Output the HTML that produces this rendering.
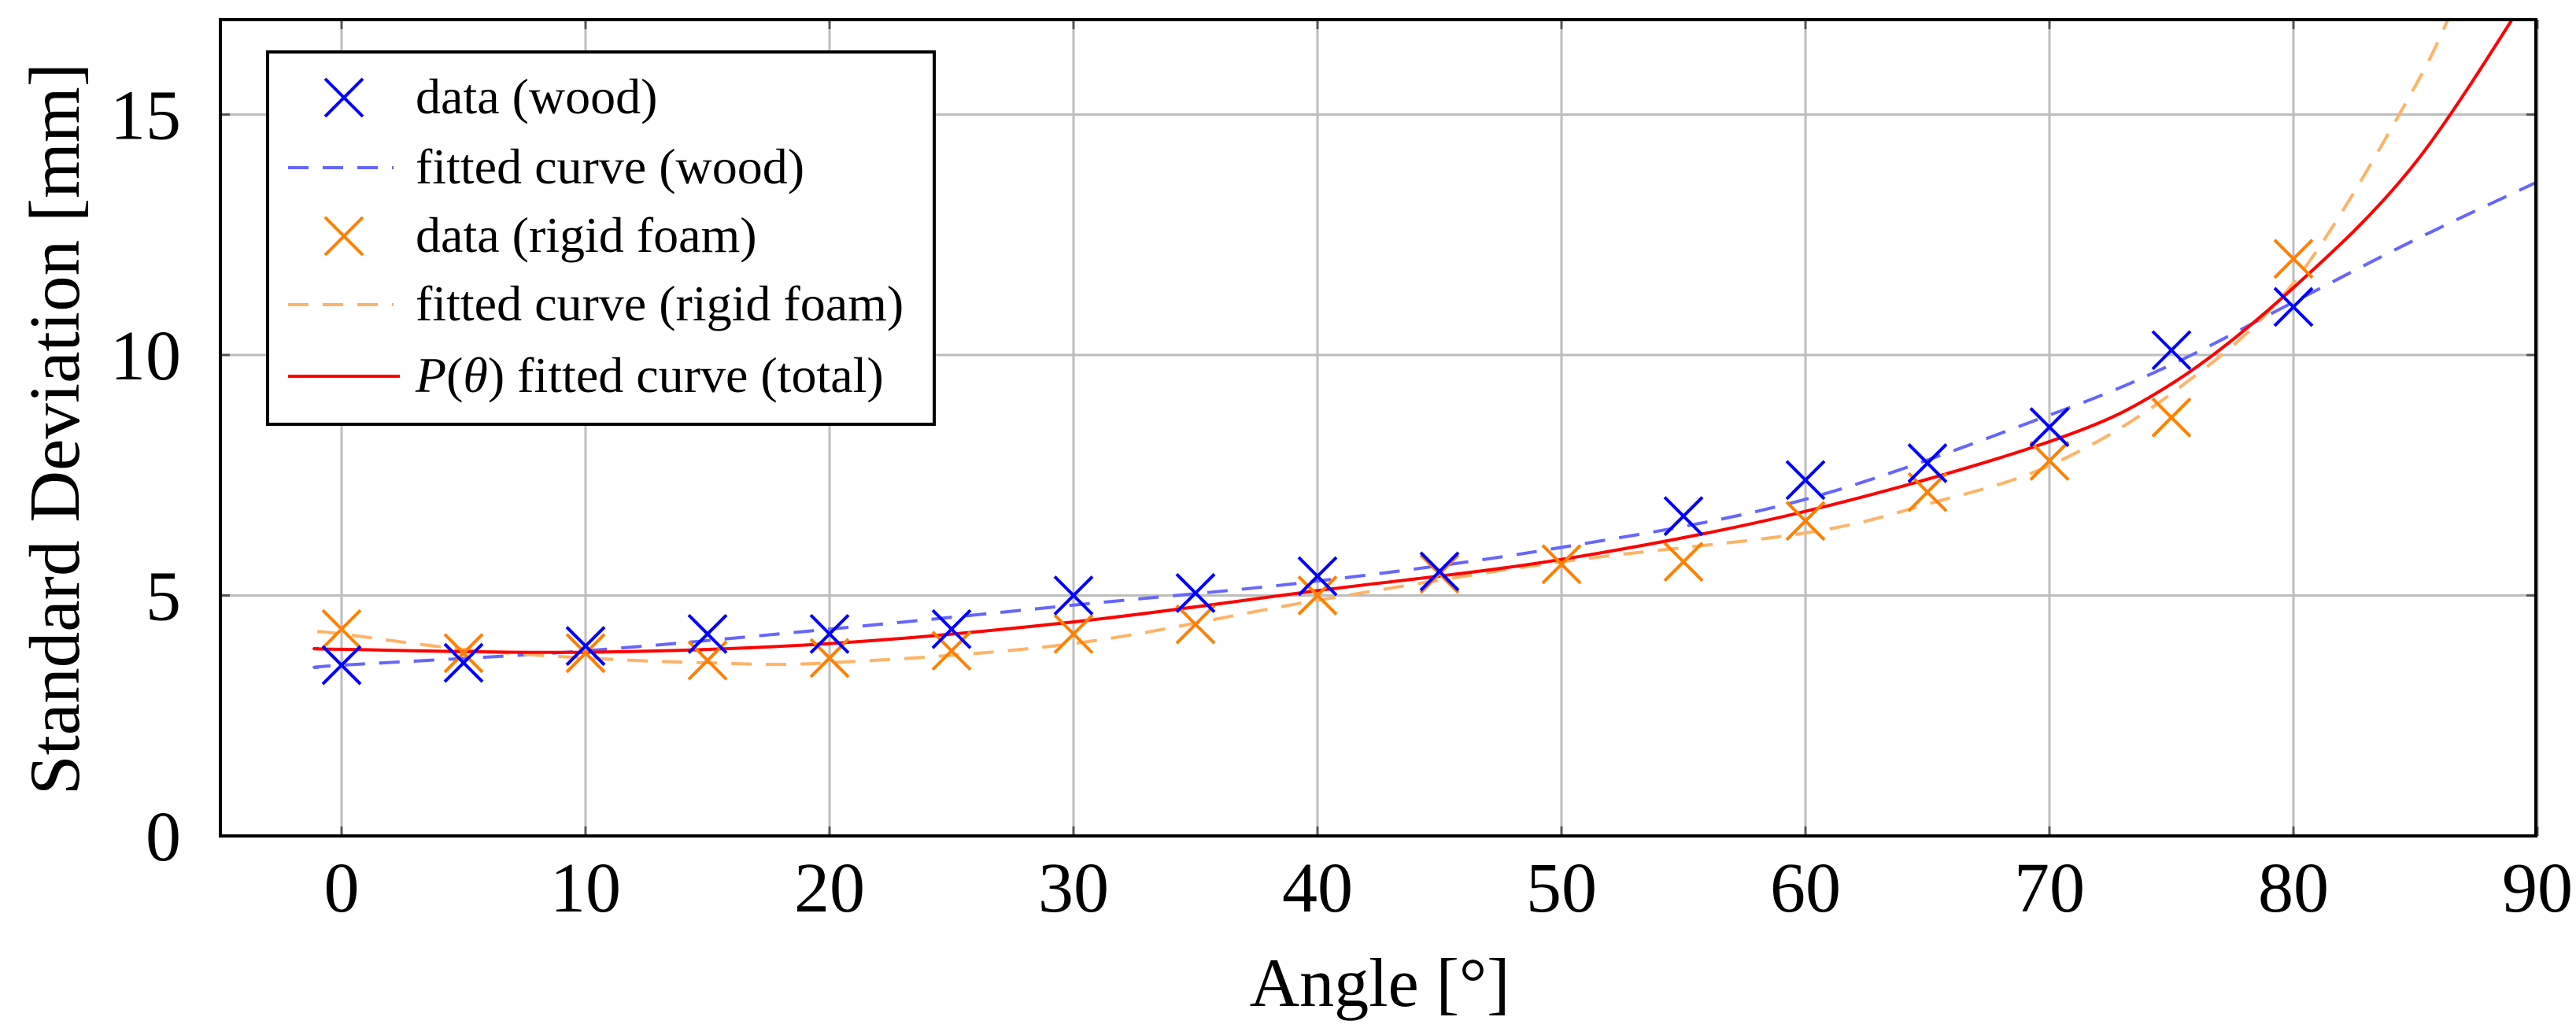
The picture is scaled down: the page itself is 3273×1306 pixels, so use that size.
<!DOCTYPE html>
<html><head><meta charset="utf-8"><style>
html,body{margin:0;padding:0;background:#fff;}
svg{display:block;font-family:"Liberation Serif","DejaVu Serif",serif;}
</style></head><body>
<svg id="chart" width="3273" height="1306" viewBox="0 0 3273 1306" xmlns="http://www.w3.org/2000/svg">
<defs><clipPath id="plotclip"><rect x="280" y="25" width="2942" height="1037"/></clipPath></defs>
<g id="grid"></g>
<g id="ticks"></g>
<g id="series" clip-path="url(#plotclip)"></g>
<rect x="280" y="25" width="2942" height="1037" fill="none" stroke="#000" stroke-width="4"/>
<g id="xlabels" font-size="90" text-anchor="middle"></g>
<g id="ylabels" font-size="90" text-anchor="end"></g>
<text x="1753" y="1278" font-size="88" text-anchor="middle">Angle [°]</text>
<text transform="translate(100,545) rotate(-90)" font-size="91" text-anchor="middle">Standard Deviation [mm]</text>
<g id="legend">
<rect x="340" y="66" width="847" height="473" fill="#fff" stroke="#000" stroke-width="4"/>
</g>
</svg>
<script>
const xTicks=[0,10,20,30,40,50,60,70,80,90];
const yTicks=[0,5,10,15];
const angles=[0,5,10,15,20,25,30,35,40,45,55,60,65,70,75,80];
const woodData=[3.55,3.6,3.95,4.2,4.2,4.3,5.0,5.05,5.4,5.5,6.65,7.4,7.75,8.5,10.1,11.0];
const foamAngles=[0,5,10,15,20,25,30,35,40,45,50,55,60,65,70,75,80];
const foamData=[4.3,3.8,3.8,3.65,3.7,3.85,4.2,4.4,5.0,5.45,5.65,5.7,6.55,7.15,7.8,8.7,12.0];
const woodFitX=[-1,0,10,20,30,40,50,60,70,75,80,85,90];
const woodFitY=[3.5,3.55,3.85,4.3,4.8,5.3,6.0,7.0,8.75,9.8,11.1,12.4,13.6];
const foamFitX=[-1,0,5,10,15,20,30,40,50,60,65,70,75,80,85,87];
const foamFitY=[4.25,4.2,3.88,3.7,3.6,3.6,4.0,4.9,5.7,6.3,6.9,7.7,9.2,11.5,15.6,17.8];
const totalFitX=[-1,0,10,20,30,40,50,60,70,75,80,85,90];
const totalFitY=[3.9,3.88,3.82,4.0,4.45,5.1,5.75,6.75,8.2,9.4,11.4,14.0,17.8];

const NS="http://www.w3.org/2000/svg";
const X=v=>434+(v-0)*31.0;
const Y=v=>1062-v*61.1;
function mk(tag,attrs,parent){const e=document.createElementNS(NS,tag);for(const k in attrs)e.setAttribute(k,attrs[k]);parent.appendChild(e);return e;}
const grid=document.getElementById('grid'),ticks=document.getElementById('ticks'),series=document.getElementById('series');
const xl=document.getElementById('xlabels'),yl=document.getElementById('ylabels');
xTicks.forEach(t=>{
  const l=mk('line',{x1:X(t),x2:X(t),y1:25,y2:1062,stroke:'#bdbdbd','stroke-width':3},grid);
  
  
  [[1062,1050],[25,37]].forEach(p=>{const k=mk('line',{x1:X(t),x2:X(t),y1:p[0],y2:p[1],stroke:'#555','stroke-width':3},ticks);
  
  });
  const tx=mk('text',{x:X(t),y:1158},xl);tx.textContent=t;
  
  
});
yTicks.forEach(t=>{
  const l=mk('line',{x1:280,x2:3222,y1:Y(t),y2:Y(t),stroke:'#bdbdbd','stroke-width':3},grid);
  
  
  [[280,292],[3222,3210]].forEach(p=>{const k=mk('line',{x1:p[0],x2:p[1],y1:Y(t),y2:Y(t),stroke:'#555','stroke-width':3},ticks);
  
  });
  const tx=mk('text',{x:230,y:Y(t)+31},yl);tx.textContent=t;
  
  
});
function smooth(xs,ys){
  const p=xs.map((x,i)=>[X(x),Y(ys[i])]);
  let d='M'+p[0][0]+','+p[0][1];
  for(let i=0;i<p.length-1;i++){
    const p0=p[i-1]||p[i],p1=p[i],p2=p[i+1],p3=p[i+2]||p[i+1];
    const c1=[p1[0]+(p2[0]-p0[0])/6,p1[1]+(p2[1]-p0[1])/6];
    const c2=[p2[0]-(p3[0]-p1[0])/6,p2[1]-(p3[1]-p1[1])/6];
    d+=' C'+c1+' '+c2+' '+p2;
  }
  return d;
}
const wf=mk('path',{d:smooth(woodFitX,woodFitY),fill:'none',stroke:'#6666ff','stroke-width':4,'stroke-dasharray':'26 18'},series);


const ff=mk('path',{d:smooth(foamFitX,foamFitY),fill:'none',stroke:'#ffb366','stroke-width':4,'stroke-dasharray':'26 18'},series);


const tf=mk('path',{d:smooth(totalFitX,totalFitY),fill:'none',stroke:'#ff0000','stroke-width':4},series);


function cross(cx,cy,col,parent){
  const s=24;
  return mk('path',{d:`M${cx-s},${cy-s}L${cx+s},${cy+s}M${cx-s},${cy+s}L${cx+s},${cy-s}`,stroke:col,'stroke-width':4,fill:'none'},parent);
}
foamAngles.forEach((a,i)=>{const c=cross(X(a),Y(foamData[i]),'#ff8000',series);
  
  });
angles.forEach((a,i)=>{const c=cross(X(a),Y(woodData[i]),'#0000ff',series);
  
  });
const lg=document.getElementById('legend');
const rows=[124,213,300,387,478];
const labels=['data (wood)','fitted curve (wood)','data (rigid foam)','fitted curve (rigid foam)',''];
const le1=cross(437,rows[0],'#0000ff',lg);
const le2=mk('line',{x1:366,x2:500,y1:rows[1],y2:rows[1],stroke:'#6666ff','stroke-width':4,'stroke-dasharray':'26 18'},lg);
const le3=cross(437,rows[2],'#ff8000',lg);
const le4=mk('line',{x1:366,x2:500,y1:rows[3],y2:rows[3],stroke:'#ffb366','stroke-width':4,'stroke-dasharray':'26 18'},lg);
const le5=mk('line',{x1:366,x2:508,y1:rows[4],y2:rows[4],stroke:'#ff0000','stroke-width':4},lg);
labels.forEach((t,i)=>{if(!t)return;const tx=mk('text',{x:528,y:rows[i]+20,'font-size':64},lg);tx.textContent=t;
  
  });
const tt=mk('text',{x:528,y:rows[4]+20,'font-size':64},lg);


tt.innerHTML='<tspan font-style="italic">P</tspan>(<tspan font-style="italic">θ</tspan>) fitted curve (total)';
</script>
</body></html>
